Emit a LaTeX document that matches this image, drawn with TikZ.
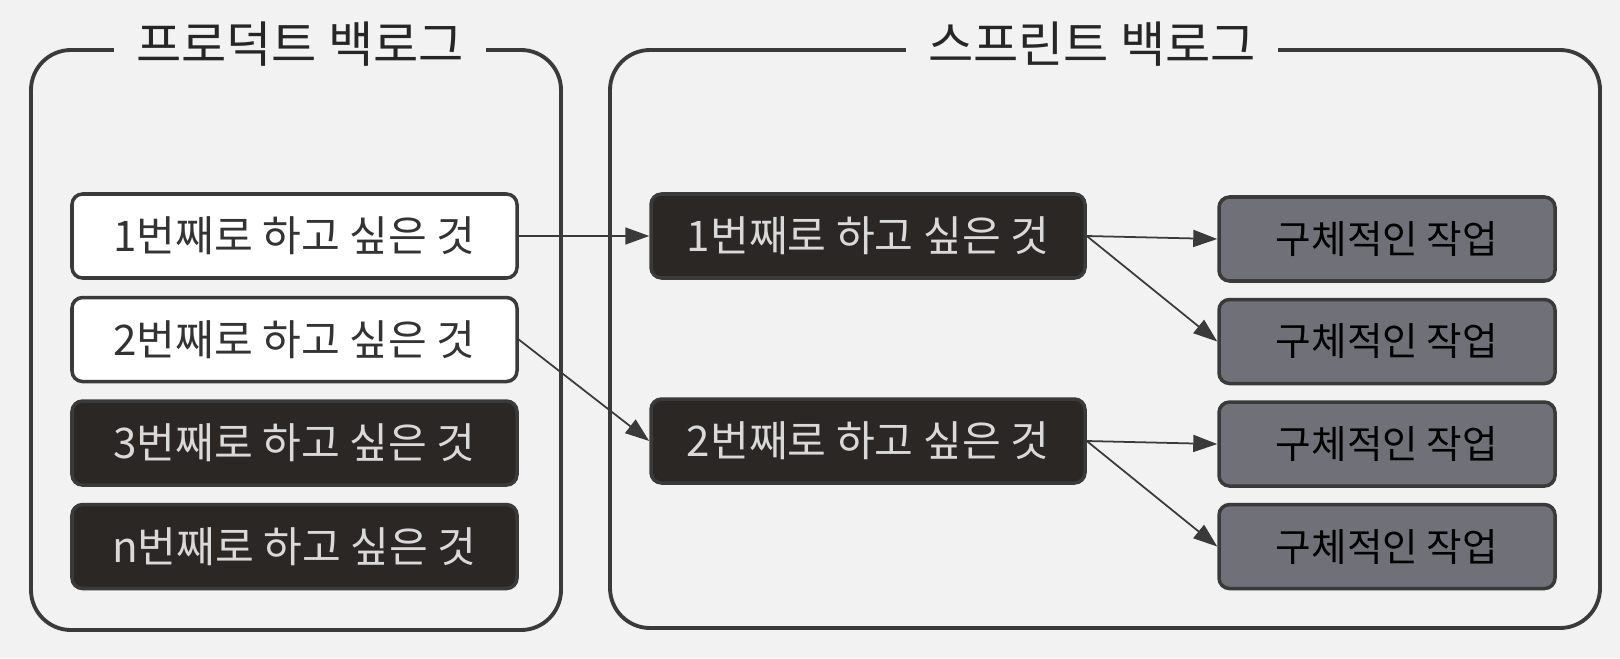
\documentclass[tikz,border=0pt]{standalone}
\usepackage{fontspec}
\setmainfont{Noto Sans CJK KR}
\usetikzlibrary{arrows.meta,positioning}
\definecolor{paper}{RGB}{242,242,242}
\definecolor{ink}{RGB}{58,58,58}
\definecolor{dark}{RGB}{43,39,36}
\definecolor{slate}{RGB}{112,112,120}

\begin{document}
\begin{tikzpicture}[
  frame/.style={draw=ink, line width=1.1pt, rounded corners=0.4cm},
  ttl/.style={fill=paper, inner xsep=0.22cm, inner ysep=2pt,
              font=\fontsize{14}{16}\selectfont, text=black!85},
  bx/.style={draw=ink, line width=1pt, rounded corners=3pt, align=center,
             minimum height=0.84cm, inner sep=0pt, font=\fontsize{12}{14}\selectfont},
  wbx/.style={bx, fill=white, minimum width=4.45cm, text=black!80},
  dbx/.style={bx, fill=dark, minimum width=4.45cm, text=white!85!black},
  tk/.style={bx, fill=slate, minimum width=3.36cm, text=black,
             font=\fontsize{11}{13}\selectfont},
  ar/.style={-{Triangle[length=2.4mm,width=1.7mm]}, draw=ink, line width=0.5pt}]
\useasboundingbox[fill=paper] (0,0) rectangle (16.2,-6.58);
% containers
\draw[frame] (0.31,-0.50) rectangle (5.61,-6.30);
\draw[frame] (6.10,-0.50) rectangle (16.00,-6.28);
\node[ttl] (pt) at (3.00,-0.44) {프로덕트 백로그};
\node[ttl] (st) at (10.92,-0.44) {스프린트 백로그};
% product backlog
\node[wbx] (p1) at (2.945,-2.36) {1번째로 하고 싶은 것};
\node[wbx, below=0.16cm of p1] (p2) {2번째로 하고 싶은 것};
\node[dbx, below=0.16cm of p2] (p3) {3번째로 하고 싶은 것};
\node[dbx, below=0.16cm of p3] (pn) {n번째로 하고 싶은 것};
% sprint backlog
\node[dbx, minimum width=4.34cm] (s1) at (8.68,-2.36) {1번째로 하고 싶은 것};
\node[dbx, minimum width=4.34cm] (s2) at (8.68,-4.41) {2번째로 하고 싶은 것};
\node[tk] (t1) at (13.87,-2.39) {구체적인 작업};
\node[tk, below=0.15cm of t1] (t2) {구체적인 작업};
\node[tk, below=0.15cm of t2] (t3) {구체적인 작업};
\node[tk, below=0.15cm of t3] (t4) {구체적인 작업};
\draw[ar] (p1.east) -- (s1.west); \draw[ar] (p2.east) -- (s2.west);
\draw[ar] (s1.east) -- (t1.west); \draw[ar] (s1.east) -- (t2.west);
\draw[ar] (s2.east) -- (t3.west); \draw[ar] (s2.east) -- (t4.west);
\end{tikzpicture}
\end{document}
